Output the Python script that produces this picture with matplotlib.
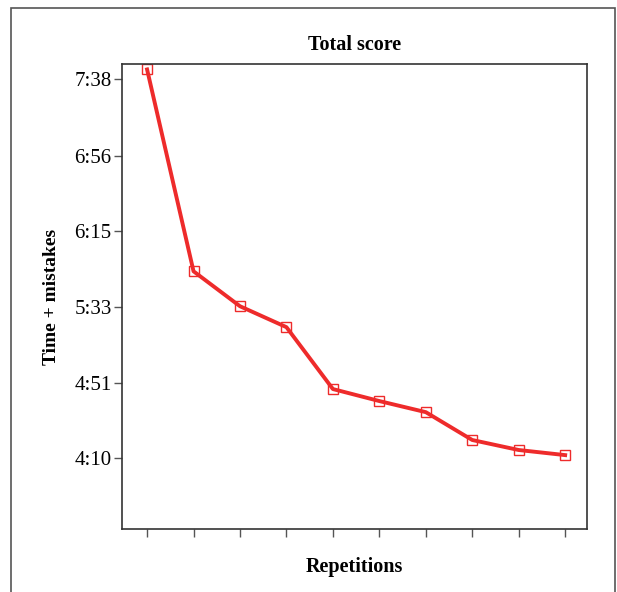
import matplotlib.pyplot as plt
from matplotlib.patches import Rectangle

# values in seconds
repetitions = [1, 2, 3, 4, 5, 6, 7, 8, 9, 10]
total_seconds = [463.5, 352.6, 333.4, 321.9, 287.9, 281.3, 275.2, 259.9, 254.4, 251.6]
tick_seconds = [250, 291, 333, 375, 416, 458]
tick_labels = ['4:10', '4:51', '5:33', '6:15', '6:56', '7:38']

plt.rcParams['font.family'] = ['Liberation Serif', 'DejaVu Serif']

fig = plt.figure(figsize=(6.17, 5.92), dpi=100)
ax = fig.add_axes([122 / 617, 1 - 529 / 592, 465 / 617, 465 / 592])

ax.plot(repetitions, total_seconds, color='#ee2b2b', linewidth=2.8,
        marker='s', markersize=7, markerfacecolor='none',
        markeredgecolor='#ee2b2b', markeredgewidth=1.0)

ax.set_xlim(0.46, 10.47)
ax.set_ylim(211, 466.5)
ax.set_xticks(repetitions)
ax.set_xticklabels([])
ax.set_yticks(tick_seconds)
ax.set_yticklabels(tick_labels, fontsize=15)
ax.tick_params(axis='both', direction='out', width=1, color='#555555')
ax.tick_params(axis='x', length=6)
ax.tick_params(axis='y', length=5.5, pad=2)

for sp in ax.spines.values():
    sp.set_color('#333333')
    sp.set_linewidth(1.2)

ax.set_title('Total score', fontsize=14.5, fontweight='bold', pad=10)
ax.set_xlabel('Repetitions', fontsize=14.5, fontweight='bold', labelpad=11)
ax.set_ylabel('Time + mistakes', fontsize=14, fontweight='bold', labelpad=10)

# outer frame around the figure
frame = Rectangle((11 / 617, -0.05), 604 / 617, 1.05 - 8 / 592,
                  transform=fig.transFigure, fill=False,
                  edgecolor='#555555', linewidth=1.2)
fig.patches.append(frame)

fig.savefig('out.png', dpi=100)
